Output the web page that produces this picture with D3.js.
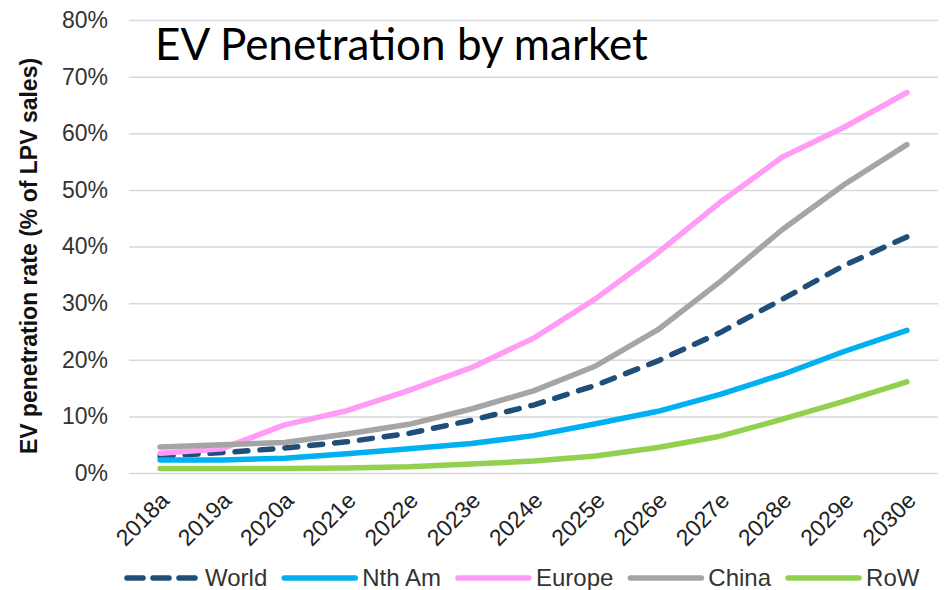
<!DOCTYPE html>
<html>
<head>
<meta charset="utf-8">
<script src="https://cdn.jsdelivr.net/npm/d3@7"></script>
<style>
  body { margin: 0; background: #fff; }
  text { font-family: "Liberation Sans", Arial, sans-serif; }
</style>
</head>
<body>
<div class="chart"></div>
<script>
const years = ["2018a", "2019a", "2020a", "2021e", "2022e", "2023e", "2024e", "2025e", "2026e", "2027e", "2028e", "2029e", "2030e"]

const world  = [3.0, 3.6, 4.4, 5.5, 7.0, 9.3, 12.0, 15.5, 19.8, 24.8, 30.7, 36.7, 41.7]
const nthAm  = [2.3, 2.3, 2.6, 3.4, 4.3, 5.2, 6.6, 8.7, 10.9, 13.9, 17.4, 21.5, 25.2]
const europe = [3.5, 4.3, 8.5, 11.0, 14.6, 18.6, 23.8, 30.8, 38.9, 47.8, 55.8, 61.1, 67.2]
const china  = [4.6, 5.0, 5.4, 6.9, 8.6, 11.3, 14.5, 18.9, 25.3, 33.8, 43.0, 51.0, 58.0]
const row    = [0.8, 0.8, 0.8, 0.9, 1.1, 1.6, 2.1, 3.0, 4.5, 6.5, 9.5, 12.7, 16.1]

const yTicks = [0, 10, 20, 30, 40, 50, 60, 70, 80]

const seriesNames = ["World", "Nth Am", "Europe", "China", "RoW"]
const seriesValues = [world, nthAm, europe, china, row]

const width = 945, height = 590
const plot = {left: 129, right: 938, top: 20, bottom: 473}

const svg = d3.select(".chart").append("svg")
    .attr("width", width)
    .attr("height", height)

const x = d3.scalePoint()
    .domain(years)
    .range([plot.left, plot.right])
    .padding(0.5)

const y = d3.scaleLinear()
    .domain([0, 80])
    .range([plot.bottom, plot.top])

const color = d3.scaleOrdinal()
    .domain(seriesNames)
    .range(["#1f4e79", "#00b0f0", "#ff9cf5", "#a5a5a5", "#92d050"])

// gridlines + y labels
const yAxis = d3.axisLeft(y)
    .tickValues(yTicks)
    .tickSize(-(plot.right - plot.left))
    .tickPadding(21)
    .tickFormat(function(d) { return d + "%" })

svg.append("g")
    .attr("class", "y axis")
    .attr("transform", "translate(" + plot.left + ",0)")
    .call(yAxis)
    .call(function(g) { g.select(".domain").remove() })
    .call(function(g) {
        g.selectAll(".tick line").attr("stroke", "#d9d9d9").attr("stroke-width", 1.5)
        g.selectAll(".tick text")
            .attr("fill", "#333")
            .style("font-size", "23px")
            .style("font-family", "'Liberation Sans', Arial, sans-serif")
    })

// x labels
const xAxis = d3.axisBottom(x).tickSize(0)

svg.append("g")
    .attr("class", "x axis")
    .attr("transform", "translate(0," + plot.bottom + ")")
    .call(xAxis)
    .call(function(g) { g.select(".domain").remove() })
    .call(function(g) {
        g.selectAll(".tick text")
            .attr("fill", "#222")
            .style("font-size", "23px")
            .style("font-family", "'Liberation Sans', Arial, sans-serif")
            .style("text-anchor", "end")
            .attr("dy", 0)
            .attr("y", 0)
            .attr("transform", "translate(10,29) rotate(-45)")
    })

// y title
svg.append("text")
    .attr("transform", "translate(37,256) rotate(-90)")
    .style("text-anchor", "middle")
    .style("font-weight", "bold")
    .style("font-size", "23px")
    .attr("fill", "#111")
    .text("EV penetration rate (% of LPV sales)")

// chart title
svg.append("text")
    .attr("x", 155)
    .attr("y", 60)
    .style("font-family", "Lato, 'Open Sans', sans-serif")
    .style("font-size", "44px")
    .attr("fill", "#000")
    .text("EV Penetration by market")

const line = d3.line()
    .x(function(d, i) { return x(years[i]) })
    .y(function(d) { return y(d) })

seriesNames.forEach(function(name, k) {
    svg.append("path")
        .datum(seriesValues[k])
        .attr("fill", "none")
        .attr("stroke", color(name))
        .attr("stroke-width", 5.5)
        .attr("stroke-linecap", "round")
        .attr("stroke-linejoin", "round")
        .attr("stroke-dasharray", name === "World" ? "13,12" : null)
        .attr("d", line)
})

// legend
const legend = svg.append("g").attr("class", "legend")
let lx = 127
seriesNames.forEach(function(name) {
    const item = legend.append("g").attr("transform", "translate(" + lx + ",578)")
    item.append("line")
        .attr("x1", 0).attr("x2", 71)
        .attr("stroke", color(name))
        .attr("stroke-width", 5.5)
        .attr("stroke-linecap", "round")
        .attr("stroke-dasharray", name === "World" ? "16,10" : null)
    const t = item.append("text")
        .attr("x", 78)
        .attr("y", 8)
        .attr("fill", "#333")
        .style("font-size", "24px")
        .text(name)
    lx += 78 + t.node().getComputedTextLength() + 17
})
</script>
</body>
</html>
